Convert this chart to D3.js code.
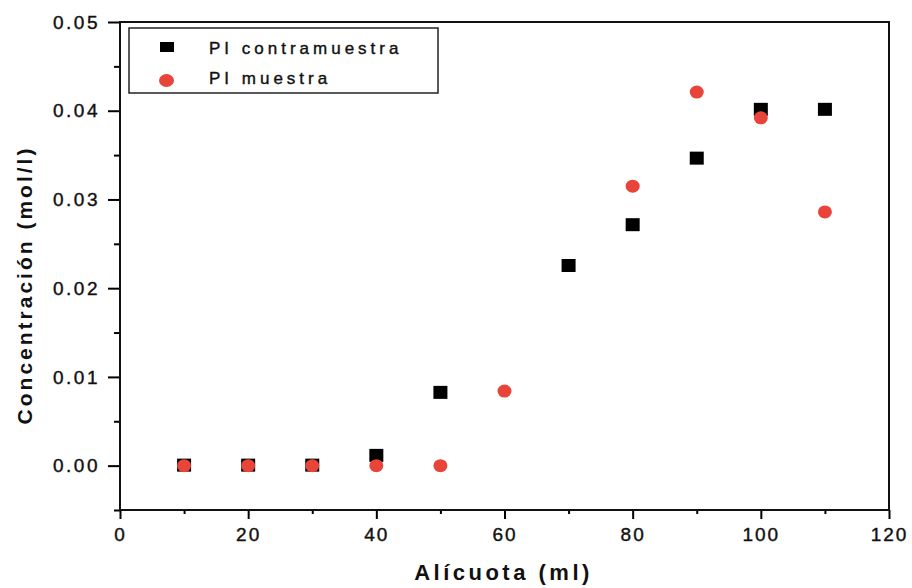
<!DOCTYPE html>
<html lang="es">
<head>
<meta charset="UTF-8">
<title>Concentración vs Alícuota</title>
<script src="https://d3js.org/d3.v7.min.js"></script>
<style>
  body { margin: 0; background: #fff; }
  svg text { font-family: "Liberation Sans", Arial, sans-serif; }
</style>
</head>
<body>
<div id="chart"></div>
<script>
// data
const alicuota = [10, 20, 30, 40, 50, 60, 70, 80, 90, 100, 110];
const contramuestra = [0, 0, 0, 0.0011, 0.0082, null, 0.0225, 0.0271, 0.0346, 0.0401, 0.0401];
const muestra = [0, 0, 0, 0, 0, 0.0084, null, 0.0315, 0.0421, 0.0392, 0.0286];
const xTicks = [0, 20, 40, 60, 80, 100, 120];
const yTicks = [0, 0.01, 0.02, 0.03, 0.04, 0.05];
const seriesNames = ["PI contramuestra", "PI muestra"];

const W = 912, H = 588;
const margin = { top: 22, right: 23, bottom: 78, left: 120 };
const width = W - margin.left - margin.right;
const height = H - margin.top - margin.bottom;

const svg = d3.select("#chart").append("svg")
  .attr("width", W).attr("height", H);
const g = svg.append("g")
  .attr("transform", `translate(${margin.left},${margin.top})`);

const x = d3.scaleLinear().domain([0, 120]).range([0, width]);
const y = d3.scaleLinear().domain([-0.005, 0.05]).range([height, 0]);

// minor ticks
g.append("g")
  .attr("transform", `translate(0,${height})`)
  .call(d3.axisBottom(x).tickValues(d3.range(10, 120, 20)).tickSize(4).tickFormat(""))
  .call(a => a.select(".domain").remove())
  .selectAll("line").attr("stroke-width", 2);
g.append("g")
  .call(d3.axisLeft(y).tickValues(d3.range(-0.005, 0.05, 0.01)).tickSize(6).tickFormat(""))
  .call(a => a.select(".domain").remove())
  .selectAll("line").attr("stroke-width", 2);

// major axes
const xAxis = g.append("g")
  .attr("transform", `translate(0,${height})`)
  .call(d3.axisBottom(x).tickValues(xTicks).tickSize(9).tickPadding(9));
xAxis.selectAll("line").attr("stroke-width", 2);
xAxis.selectAll("text").style("font-size", "19px").style("letter-spacing", "2px")
  .attr("fill", "#111").attr("stroke", "#111").attr("stroke-width", 0.4);

const yAxis = g.append("g")
  .call(d3.axisLeft(y).tickValues(yTicks).tickSize(12).tickPadding(8).tickFormat(d3.format(".2f")));
yAxis.selectAll("line").attr("stroke-width", 2);
yAxis.selectAll("text").style("font-size", "19px").style("letter-spacing", "2.5px")
  .attr("fill", "#111").attr("stroke", "#111").attr("stroke-width", 0.4);
g.selectAll(".domain").remove();

// frame
g.append("rect")
  .attr("width", width).attr("height", height)
  .attr("fill", "none").attr("stroke", "#111").attr("stroke-width", 2);

// points
const red = "#e8443a";
const muestraPts = alicuota.map((a, i) => ({ a, v: muestra[i] })).filter(d => d.v !== null);
const contraPts = alicuota.map((a, i) => ({ a, v: contramuestra[i] })).filter(d => d.v !== null);

g.selectAll(".sq").data(contraPts).enter().append("rect")
  .attr("x", d => x(d.a) - 7).attr("y", d => y(d.v) - 7)
  .attr("width", 14).attr("height", 13)
  .attr("fill", "#000");

g.selectAll(".ci").data(muestraPts).enter().append("ellipse")
  .attr("cx", d => x(d.a)).attr("cy", d => y(d.v))
  .attr("rx", 7).attr("ry", 6.5)
  .attr("fill", red);

// legend
const lg = svg.append("g").attr("transform", "translate(129,28)");
lg.append("rect").attr("width", 309).attr("height", 65)
  .attr("fill", "#fff").attr("stroke", "#222").attr("stroke-width", 1.5);
lg.append("rect").attr("x", 31).attr("y", 14).attr("width", 14).attr("height", 10).attr("fill", "#000");
lg.append("ellipse").attr("cx", 37.5).attr("cy", 52.5).attr("rx", 7.5).attr("ry", 6.5).attr("fill", red);
lg.selectAll(".lt").data(seriesNames).enter().append("text")
  .attr("x", 80).attr("y", (d, i) => 26 + i * 30)
  .style("font-size", "17px").style("letter-spacing", "4px")
  .attr("fill", "#111").attr("stroke", "#111").attr("stroke-width", 0.4)
  .text(d => d);

// axis titles
svg.append("text")
  .attr("x", margin.left + width / 2 - 1).attr("y", 580)
  .attr("text-anchor", "middle")
  .style("font-size", "22px").style("font-weight", "bold").style("letter-spacing", "3.5px")
  .attr("fill", "#111")
  .text("Alícuota (ml)");
svg.append("text")
  .attr("transform", "translate(32,285) rotate(-90)")
  .attr("text-anchor", "middle")
  .style("font-size", "21px").style("font-weight", "bold").style("letter-spacing", "3px")
  .attr("fill", "#111")
  .text("Concentración (mol/l)");
</script>
</body>
</html>
